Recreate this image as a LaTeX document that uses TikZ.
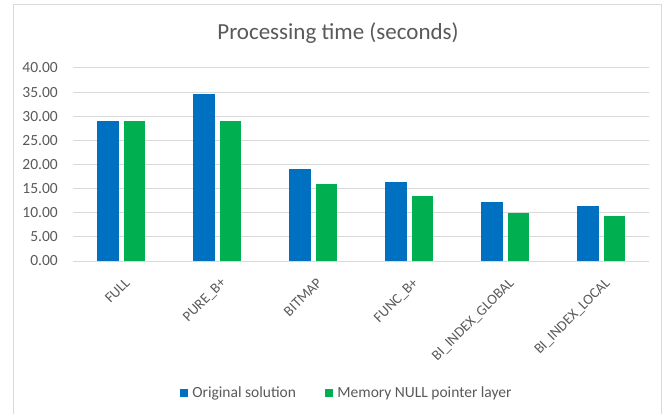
\documentclass[tikz,border=0pt]{standalone}
\usepackage{fontspec}
\setmainfont{Carlito}
\definecolor{origblue}{HTML}{0070C0}
\definecolor{nullgreen}{HTML}{00B050}
\definecolor{gridgray}{HTML}{D9D9D9}
\definecolor{textgray}{HTML}{595959}
\begin{document}
\begin{tikzpicture}
		[x=1pt,y=-1pt,
		grid line/.style={draw=gridgray,line width=1pt},
		tick label/.style={anchor=east,inner sep=0pt,text=textgray,
			font=\fontsize{15.5}{16}\selectfont},
		cat label/.style={anchor=north east,inner sep=0pt,rotate=45,
			text=textgray,font=\fontsize{14.5}{15}\selectfont},
		orig bar/.style={fill=origblue},
		null bar/.style={fill=nullgreen},
		key box/.style={minimum size=8pt,inner sep=0pt},
		key text/.style={anchor=west,inner sep=0pt,text=textgray,
			font=\fontsize{15.5}{16}\selectfont}
	]
		\useasboundingbox (0,0) rectangle (669,414);
		\draw[gridgray] (13,4) rectangle (661,430);
		\node[text=textgray,font=\fontsize{23}{24}\selectfont] (title) at (338,33)
			{Processing time (seconds)};
		\foreach \v/\lab in {0/0.00,5/5.00,10/10.00,15/15.00,20/20.00,
			25/25.00,30/30.00,35/35.00,40/40.00}
		{
			\draw[grid line] (73,261-4.825*\v) -- (649,261-4.825*\v);
			\node[tick label] (tick\v) at (58,261-4.825*\v) {\lab};
		}
		\foreach \i/\name/\a/\b in {0/FULL/29.0/29.0,
			1/PURE\_B+/34.6/29.0,
			2/BITMAP/19.1/16.0,
			3/FUNC\_B+/16.4/13.4,
			4/BI\_INDEX\_GLOBAL/12.2/9.9,
			5/BI\_INDEX\_LOCAL/11.5/9.3}
		{
			\fill[orig bar] (97+96*\i,261) rectangle (119+96*\i,261-4.825*\a);
			\fill[null bar] (124+96*\i,261) rectangle (145+96*\i,261-4.825*\b);
			\node[cat label] (cat\i) at (124+96*\i,277) {\name};
		}
		\node[key box,fill=origblue] (key orig) at (184,393) {};
		\node[key text] (leg orig) at ([xshift=4pt]key orig.east) {Original solution};
		\node[key box,fill=nullgreen] (key null) at (329,393) {};
		\node[key text] (leg null) at ([xshift=4pt]key null.east)
			{Memory NULL pointer layer};
	\end{tikzpicture}
\end{document}
